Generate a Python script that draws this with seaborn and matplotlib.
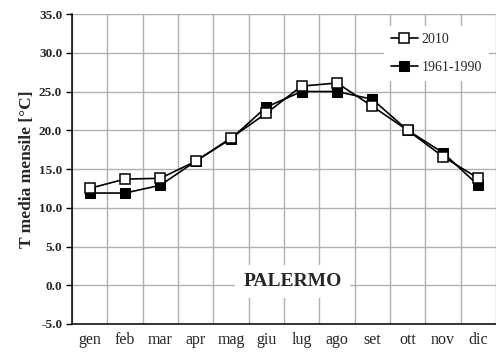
import matplotlib
matplotlib.use("Agg")
import matplotlib.pyplot as plt
import seaborn as sns
import numpy as np
import pandas as pd

months = ["gen", "feb", "mar", "apr", "mag", "giu", "lug", "ago", "set", "ott", "nov", "dic"]
t_2010 = [12.5, 13.7, 13.8, 16.0, 19.0, 22.2, 25.7, 26.1, 23.1, 20.0, 16.6, 13.8]
t_1961_1990 = [11.9, 11.9, 12.9, 16.0, 18.9, 23.0, 25.0, 25.0, 24.0, 20.0, 17.1, 12.9]
y_ticks = [-5.0, 0.0, 5.0, 10.0, 15.0, 20.0, 25.0, 30.0, 35.0]

sns.set_style("white")
plt.rcParams['font.family'] = ['Liberation Serif', 'DejaVu Serif']

fig = plt.figure(figsize=(4.96, 3.6), dpi=100)
ax = fig.add_axes([0.145, 0.1, 0.855, 0.861])

idx = np.arange(len(months))
df = pd.DataFrame({"pos": idx, "2010": t_2010, "1961-1990": t_1961_1990})

sns.lineplot(data=df, x="pos", y="2010", ax=ax, color="black", lw=1.2,
             marker="s", markersize=7, markerfacecolor="white",
             markeredgecolor="black", markeredgewidth=1.1, label="2010", zorder=4)
sns.lineplot(data=df, x="pos", y="1961-1990", ax=ax, color="black", lw=1.2,
             marker="s", markersize=7, markerfacecolor="black",
             markeredgecolor="black", label="1961-1990", zorder=3)

ax.set_xlim(-0.5, 11.5)
ax.set_ylim(-5, 35)
ax.set_yticks(y_ticks)
ax.set_yticklabels([f"{v:.1f}" for v in y_ticks], fontweight="bold", fontsize=9.5)
ax.set_xticks(np.arange(-0.5, 12, 1))
ax.set_xticklabels([])
ax.set_xticks(idx, minor=True)
ax.set_xticklabels(months, minor=True, fontsize=11.5)
ax.tick_params(axis="x", which="minor", length=0, pad=6)
ax.tick_params(axis="x", which="major", direction="inout", length=5, width=1, color="black")
ax.tick_params(axis="y", direction="out", length=4, width=1, color="black", pad=3, left=True)

ax.grid(True, which="major", color="#b0b0b0", lw=1)
ax.set_axisbelow(True)
for s in ["top", "right"]:
    ax.spines[s].set_visible(False)
for s in ["left", "bottom"]:
    ax.spines[s].set_color("black")
    ax.spines[s].set_linewidth(1.1)

ax.set_xlabel("")
ax.set_ylabel("T media mensile [°C]", fontweight="bold", fontsize=12.5, labelpad=3)

ax.text(5.75, 0.5, "PALERMO", ha="center", va="center", fontsize=14, fontweight="bold",
        bbox=dict(facecolor="white", edgecolor="none", pad=6), zorder=5)

leg = ax.legend(loc="upper right", bbox_to_anchor=(1.0, 0.985), frameon=True, fontsize=10,
                handlelength=1.9, labelspacing=1.1, borderpad=0.5, handletextpad=0.3)
leg.get_frame().set_edgecolor("none")
leg.get_frame().set_facecolor("white")
leg.get_frame().set_alpha(1)

fig.savefig("out.png", dpi=100)
